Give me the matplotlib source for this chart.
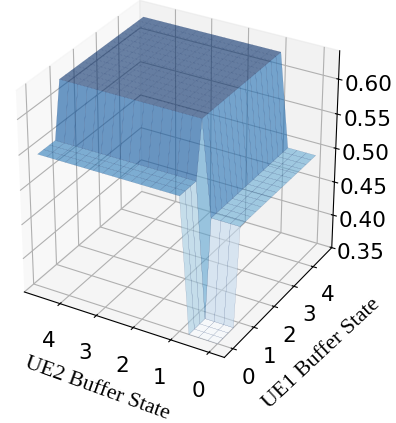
import matplotlib
matplotlib.use("Agg")
import matplotlib.pyplot as plt
import numpy as np

ue2_state = [0, 0.25, 0.5, 0.75, 1, 1.25, 1.5, 1.75, 2, 2.25, 2.5, 2.75, 3, 3.25, 3.5, 3.75, 4, 4.25, 4.5, 4.75]
ue1_state = [0, 0.25, 0.5, 0.75, 1, 1.25, 1.5, 1.75, 2, 2.25, 2.5, 2.75, 3, 3.25, 3.5, 3.75, 4, 4.25, 4.5, 4.75]
row_low = [0.35, 0.35, 0.35, 0.35] + [0.545] * 16  # UE1 buffer below 1
row_high = [0.49, 0.49, 0.49, 0.49] + [0.625] * 16  # UE1 buffer 1 and up
z_value = [row_low] * 4 + [row_high] * 16
state_ticks = [0, 1, 2, 3, 4]
z_ticks = [0.35, 0.40, 0.45, 0.50, 0.55, 0.60]

X, Y = np.meshgrid(ue2_state, ue1_state)
Z = np.array(z_value)

fig = plt.figure(figsize=(3.96, 4.23), dpi=100)
ax = fig.add_axes([-0.073, 0.097, 1.03, 1.03 * 396 / 423], projection='3d')
ax.plot_surface(X, Y, Z, cmap='Blues', alpha=0.6, rstride=1, cstride=1, vmin=0.35, vmax=0.625,
                edgecolor='#1f3b70', linewidth=0.12)

ax.set_xlim(5.0, -0.4)
ax.set_ylim(-0.4, 5.0)
ax.set_zlim(0.35, 0.64)
ax.set_xticks(state_ticks)
ax.set_yticks(state_ticks)
ax.set_zticks(z_ticks)
ax.set_zticklabels(['%.2f' % t for t in z_ticks])
ax.tick_params(labelsize=15.5)
ax.tick_params(axis='x', pad=6)
ax.tick_params(axis='z', pad=7)
ax.view_init(elev=30, azim=-60)
ax.set_box_aspect((4, 4, 3.98), zoom=0.95)

serif = {'family': 'Liberation Serif', 'size': 15.8}
ax.xaxis.set_rotate_label(False)
ax.yaxis.set_rotate_label(False)
ax.set_xlabel('UE2 Buffer State', fontdict=serif, rotation=-20, labelpad=11)
ax.set_ylabel('UE1 Buffer State', fontdict=serif, rotation=43, labelpad=11)

plt.savefig('out.png', dpi=100)
